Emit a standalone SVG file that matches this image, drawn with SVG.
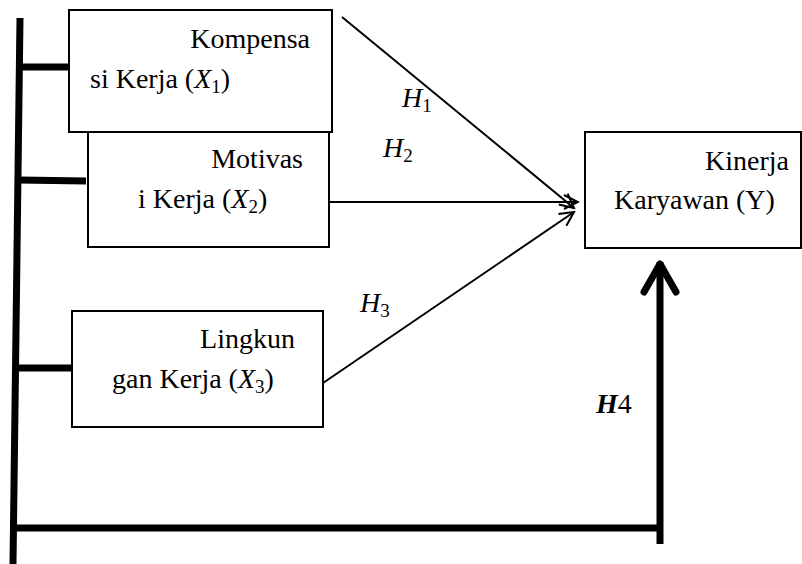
<svg xmlns="http://www.w3.org/2000/svg" width="802" height="564" viewBox="0 0 802 564">
<defs>
<style>
.box{fill:#fff;stroke:#000;stroke-width:2}
.thin{stroke:#000;stroke-width:2;fill:none}
.thick{stroke:#000;stroke-width:7;fill:none}
</style>
<marker id="open" viewBox="0 0 20 20" refX="18" refY="10" markerWidth="20" markerHeight="20" markerUnits="userSpaceOnUse" orient="auto">
<path d="M4,3 L18,10 L4,17" fill="none" stroke="#000" stroke-width="2"/>
</marker>
<marker id="bold" viewBox="0 0 40 40" refX="20" refY="4" markerWidth="40" markerHeight="40" markerUnits="userSpaceOnUse" orient="0">
<path d="M4,34 L20,6 L36,34" fill="none" stroke="#000" stroke-width="7" stroke-linecap="round" stroke-linejoin="round"/>
</marker>
</defs>
<rect width="802" height="564" fill="#fff"/>
<g id="connectors">
<path class="thick" d="M20,18 L13,564"/>
<path class="thick" d="M20,67 L72,67"/>
<path class="thick" d="M19,180 L86,181"/>
<path class="thick" d="M15,368 L72,368"/>
<path class="thick" d="M14,528 L660,528"/>
<path class="thick" d="M660,544 L660,262" marker-end="url(#bold)"/>
<path class="thin" d="M342,17 L574,208" marker-end="url(#open)"/>
<path class="thin" d="M330,202 L578,202" marker-end="url(#open)"/>
<path class="thin" d="M323,383 L574,212" marker-end="url(#open)"/>
</g>
<g id="x1">
<rect class="box" x="69" y="10" width="263" height="122"/>
<text x="310" y="48" font-family="'Liberation Serif', serif" font-size="28" text-anchor="end">Kompensa</text>
<text x="90" y="88" font-family="'Liberation Serif', serif" font-size="28">si Kerja (<tspan font-style="italic">X</tspan><tspan font-size="19" dy="5">1</tspan><tspan dy="-5">)</tspan></text>
</g>
<g id="x2">
<rect class="box" x="88" y="132" width="241" height="115"/>
<text x="303" y="168" font-family="'Liberation Serif', serif" font-size="28" text-anchor="end">Motivas</text>
<text x="138" y="208" font-family="'Liberation Serif', serif" font-size="28">i Kerja (<tspan font-style="italic">X</tspan><tspan font-size="19" dy="5">2</tspan><tspan dy="-5">)</tspan></text>
</g>
<g id="x3">
<rect class="box" x="72" y="311" width="251" height="116"/>
<text x="295" y="348" font-family="'Liberation Serif', serif" font-size="28" text-anchor="end">Lingkun</text>
<text x="112" y="388" font-family="'Liberation Serif', serif" font-size="28">gan Kerja (<tspan font-style="italic">X</tspan><tspan font-size="19" dy="5">3</tspan><tspan dy="-5">)</tspan></text>
</g>
<g id="y">
<rect class="box" x="585" y="132" width="216" height="116"/>
<text x="789" y="170" font-family="'Liberation Serif', serif" font-size="28" text-anchor="end">Kinerja</text>
<text x="614" y="209" font-family="'Liberation Serif', serif" font-size="28">Karyawan (Y)</text>
</g>
<g id="labels">
<text x="402" y="107" font-family="'Liberation Serif', serif" font-size="28" font-style="italic">H<tspan font-size="19" font-style="normal" dy="5">1</tspan></text>
<text x="383" y="157" font-family="'Liberation Serif', serif" font-size="28" font-style="italic">H<tspan font-size="19" font-style="normal" dy="5">2</tspan></text>
<text x="360" y="312" font-family="'Liberation Serif', serif" font-size="28" font-style="italic">H<tspan font-size="19" font-style="normal" dy="5">3</tspan></text>
<text x="596" y="413" font-family="'Liberation Serif', serif" font-size="28"><tspan font-style="italic" font-weight="bold">H</tspan>4</text>
</g>
</svg>
